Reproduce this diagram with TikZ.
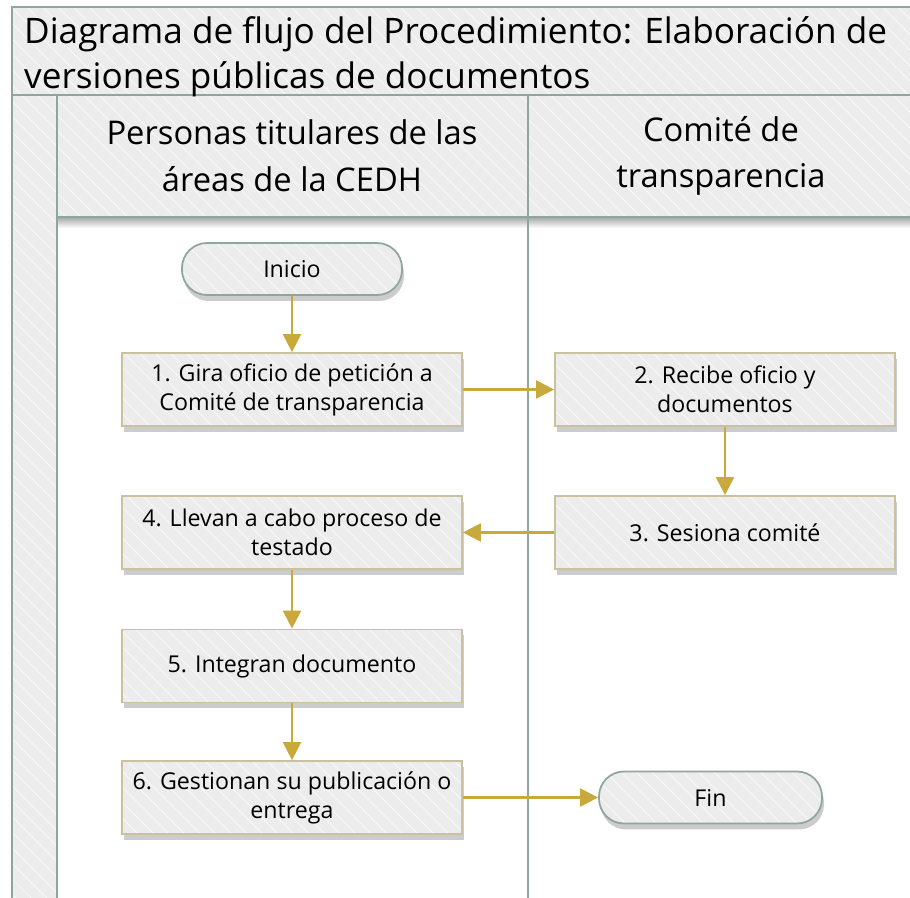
\documentclass[tikz,border=0pt]{standalone}
\usepackage{fontspec}
\setmainfont{Open Sans}
\usepackage{tikz}
\usetikzlibrary{arrows.meta,shadows,patterns.meta}

\definecolor{framecol}{RGB}{143,166,160}
\definecolor{bandgray}{RGB}{236,236,236}
\definecolor{boxline}{RGB}{201,193,160}
\definecolor{flowcol}{RGB}{201,169,60}

\begin{document}
\begin{tikzpicture}
	\tikzstyle{band}=[preaction={fill=bandgray}, pattern={Lines[angle=-45,distance=0.22cm,line width=0.3pt]}, pattern color=white];
	\tikzstyle{frameline}=[draw=framecol, line width=1.1pt];
	\tikzstyle{stepbox}=[drop shadow={shadow xshift=0.04cm, shadow yshift=-0.12cm, opacity=0.4}, band, draw=boxline, line width=1pt, shape=rectangle, minimum width=6.8cm, minimum height=1.46cm, align=center, font=\fontsize{13.2}{16.6}\selectfont];
	\tikzstyle{termnode}=[drop shadow={shadow xshift=0.04cm, shadow yshift=-0.12cm, opacity=0.4}, band, draw=framecol, line width=1pt, shape=rectangle, rounded corners=0.5cm, minimum width=4.4cm, minimum height=1.04cm, font=\fontsize{13.2}{16.6}\selectfont];
	\tikzstyle{lanetitle}=[align=center, font=\fontsize{18.6}{26.5}\selectfont];
	\tikzstyle{flow}=[draw=flowcol, line width=1.3pt, -{Triangle[length=0.36cm, width=0.36cm]}];

	\useasboundingbox (0,0) rectangle (18.2,-17.96);
	\clip (0,0) rectangle (18.2,-17.96);

	% pool, strip and lane headers
	\fill[band] (0.24,-0.14) rectangle (18.4,-1.9);
	\fill[band] (0.24,-1.9) rectangle (1.14,-18.5);
	\shade[top color=black!35, bottom color=white] (1.14,-4.34) rectangle (18.4,-4.56);
	\fill[band] (1.14,-1.9) rectangle (18.4,-4.34);
	\draw[frameline] (0.24,-18.5) -- (0.24,-0.14) -- (18.4,-0.14);
	\draw[frameline] (0.24,-1.9) -- (18.4,-1.9);
	\draw[frameline] (1.14,-1.9) -- (1.14,-18.5);
	\draw[frameline] (1.14,-4.34) -- (18.4,-4.34);
	\draw[frameline] (10.56,-1.9) -- (10.56,-18.5);

	\node[anchor=north west, align=left, font=\fontsize{20}{25.6}\selectfont] (title) at (0.36,-0.2) {Diagrama de flujo del Procedimiento: Elaboración de\\versiones públicas de documentos};
	\node[lanetitle] (lane1) at (5.84,-3.12) {Personas titulares de las\\áreas de la CEDH};
	\node[lanetitle] (lane2) at (14.42,-3.12) {Comité de\\transparencia};

	% steps
	\node[termnode] (inicio) at (5.84,-5.38) {Inicio};
	\node[stepbox] (s1) at (5.84,-7.79) {1. Gira oficio de petición a\\Comité de transparencia};
	\node[stepbox] (s2) at (14.5,-7.79) {2. Recibe oficio y\\documentos};
	\node[stepbox] (s3) at (14.5,-10.65) {3. Sesiona comité};
	\node[stepbox] (s4) at (5.84,-10.65) {4. Llevan a cabo proceso de\\testado};
	\node[stepbox] (s5) at (5.84,-13.32) {5. Integran documento};
	\node[stepbox] (s6) at (5.84,-15.95) {6. Gestionan su publicación o\\entrega};
	\node[termnode, minimum width=4.46cm] (fin) at (14.21,-15.95) {Fin};

	\draw[flow] (inicio) -- (s1);
	\draw[flow] (s1) -- (s2);
	\draw[flow] (s2) -- (s3);
	\draw[flow] (s3) -- (s4);
	\draw[flow] (s4) -- (s5);
	\draw[flow] (s5) -- (s6);
	\draw[flow] (s6) -- (fin);

\end{tikzpicture}
\end{document}
